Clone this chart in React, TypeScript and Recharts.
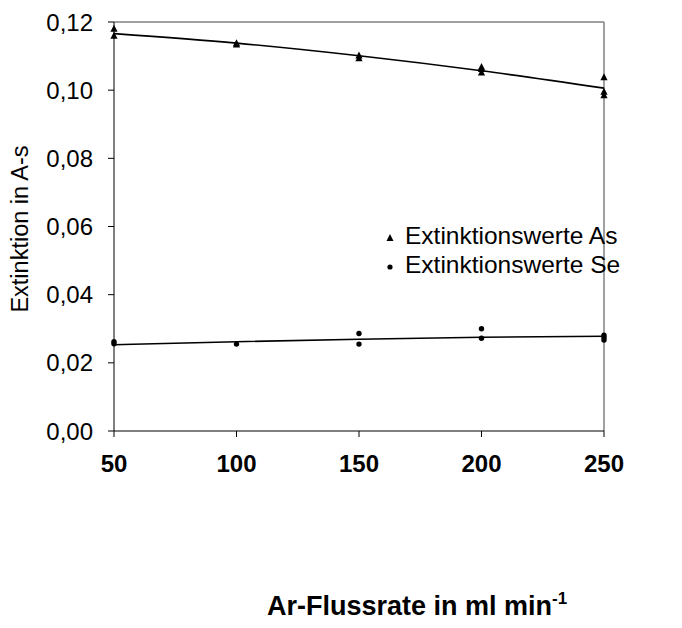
import {
  ComposedChart,
  Scatter,
  Line,
  XAxis,
  YAxis,
  ReferenceLine,
} from "recharts";

// x ticks (Ar flow in ml/min) and y ticks (extinction)
const xTicks = [50, 100, 150, 200, 250];
const yTicks = [0, 0.02, 0.04, 0.06, 0.08, 0.1, 0.12];

// measured extinction values, As
const asPoints = [
  { x: 50, y: 0.118 },
  { x: 50, y: 0.116 },
  { x: 100, y: 0.1138 },
  { x: 100, y: 0.1134 },
  { x: 150, y: 0.1102 },
  { x: 150, y: 0.1094 },
  { x: 200, y: 0.1068 },
  { x: 200, y: 0.1062 },
  { x: 200, y: 0.1052 },
  { x: 250, y: 0.1038 },
  { x: 250, y: 0.0995 },
  { x: 250, y: 0.0985 },
];

// measured extinction values, Se
const sePoints = [
  { x: 50, y: 0.0262 },
  { x: 50, y: 0.0256 },
  { x: 100, y: 0.0255 },
  { x: 150, y: 0.0286 },
  { x: 150, y: 0.0255 },
  { x: 200, y: 0.03 },
  { x: 200, y: 0.0272 },
  { x: 250, y: 0.0281 },
  { x: 250, y: 0.0274 },
  { x: 250, y: 0.0267 },
];

// fitted trend lines
const asTrend = [
  { x: 50, y: 0.1166 },
  { x: 100, y: 0.1138 },
  { x: 150, y: 0.1101 },
  { x: 200, y: 0.1057 },
  { x: 250, y: 0.1006 },
];
const seTrend = [
  { x: 50, y: 0.0253 },
  { x: 100, y: 0.0262 },
  { x: 150, y: 0.0269 },
  { x: 200, y: 0.0275 },
  { x: 250, y: 0.0278 },
];

const legendItems = ["Extinktionswerte As", "Extinktionswerte Se"];

const FONT = "'Liberation Sans', Arial, sans-serif";

const Triangle = ({ cx, cy }: any) => (
  <path
    d={`M${cx},${cy - 4} L${cx + 3.6},${cy + 3} L${cx - 3.6},${cy + 3} Z`}
    fill="#000"
  />
);

const Dot = ({ cx, cy }: any) => <circle cx={cx} cy={cy} r={2.7} fill="#000" />;

const XTitle = ({ viewBox }: any) => (
  <text
    x={viewBox.x + viewBox.width / 2 + 58}
    y={viewBox.y + 184}
    textAnchor="middle"
    fontFamily={FONT}
    fontSize={27}
    fontWeight="bold"
    fill="#000"
  >
    Ar-Flussrate in ml min
    <tspan fontSize={17} dy={-11}>
      -1
    </tspan>
  </text>
);

const YTitle = () => (
  <text
    x={0}
    y={0}
    transform="translate(28,229) rotate(-90)"
    textAnchor="middle"
    fontFamily={FONT}
    fontSize={23.5}
    fill="#000"
  >
    Extinktion in A-s
  </text>
);

export default function App() {
  return (
    <div style={{ position: "absolute", left: 0, top: 0, background: "#fff" }}>
      <ComposedChart
        width={682}
        height={628}
        margin={{ top: 22, right: 78, bottom: 137, left: 0 }}
      >
        <XAxis
          dataKey="x"
          type="number"
          domain={[50, 250]}
          ticks={xTicks}
          height={60}
          stroke="#000"
          tickSize={6}
          tickMargin={18}
          tick={{ fill: "#000", fontSize: 24, fontWeight: "bold", fontFamily: FONT }}
          label={<XTitle />}
        />
        <YAxis
          type="number"
          domain={[0, 0.12]}
          ticks={yTicks}
          width={114}
          stroke="#000"
          tickSize={6}
          tickMargin={15}
          tickFormatter={(v: number) => v.toFixed(2).replace(".", ",")}
          tick={{ fill: "#000", fontSize: 24, fontFamily: FONT }}
          label={<YTitle />}
        />
        <ReferenceLine y={0.12} stroke="#808080" strokeWidth={1.5} />
        <ReferenceLine x={250} stroke="#808080" strokeWidth={1.5} />
        <Line
          data={asTrend}
          dataKey="y"
          type="monotone"
          stroke="#000"
          strokeWidth={1.6}
          dot={false}
          isAnimationActive={false}
        />
        <Line
          data={seTrend}
          dataKey="y"
          type="monotone"
          stroke="#000"
          strokeWidth={1.6}
          dot={false}
          isAnimationActive={false}
        />
        <Scatter
          name={legendItems[0]}
          data={asPoints}
          dataKey="y"
          shape={<Triangle />}
          isAnimationActive={false}
        />
        <Scatter
          name={legendItems[1]}
          data={sePoints}
          dataKey="y"
          shape={<Dot />}
          isAnimationActive={false}
        />
      </ComposedChart>
      <div
        style={{
          position: "absolute",
          left: 382,
          top: 221,
          fontFamily: FONT,
          fontSize: 24.5,
          lineHeight: "29px",
          color: "#000",
          whiteSpace: "nowrap",
        }}
      >
        {legendItems.map((name, i) => (
          <div key={name}>
            <svg width={16} height={12} style={{ marginRight: 7 }}>
              {i === 0 ? (
                <path d="M8,2 L11.5,9 L4.5,9 Z" fill="#000" />
              ) : (
                <circle cx={8} cy={6} r={2.6} fill="#000" />
              )}
            </svg>
            {name}
          </div>
        ))}
      </div>
    </div>
  );
}
